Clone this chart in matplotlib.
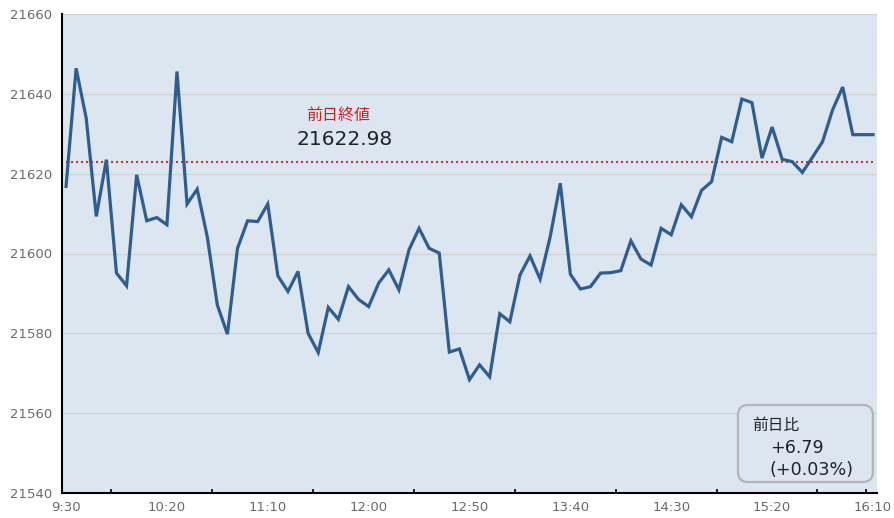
import numpy as np
import matplotlib
matplotlib.use('Agg')
import matplotlib.pyplot as plt
from matplotlib.patches import FancyBboxPatch

# 5-minute index values, 9:30 -> 16:10
prices = [21616.8, 21646.4, 21633.9, 21609.3, 21623.5, 21595.1, 21591.9, 21619.7,
          21608.2, 21609.0, 21607.2, 21645.6, 21612.4, 21616.1, 21604.2, 21587.1,
          21579.8, 21601.3, 21608.2, 21608.0, 21612.4, 21594.4, 21590.5, 21595.5,
          21580.0, 21575.2, 21586.5, 21583.5, 21591.7, 21588.5, 21586.7, 21592.6,
          21595.9, 21590.9, 21600.9, 21606.3, 21601.3, 21600.1, 21575.3, 21576.1,
          21568.4, 21572.1, 21569.1, 21584.9, 21582.9, 21594.6, 21599.4, 21593.6,
          21604.2, 21617.6, 21594.8, 21591.1, 21591.7, 21595.1, 21595.2, 21595.7,
          21603.2, 21598.6, 21597.1, 21606.3, 21604.7, 21612.2, 21609.2, 21615.8,
          21618.0, 21629.1, 21628.0, 21638.7, 21637.8, 21623.9, 21631.7, 21623.6,
          21623.0, 21620.3, 21624.1, 21628.0, 21636.0, 21641.7, 21629.77, 21629.77,
          21629.77]
time_labels = ['9:30', '10:20', '11:10', '12:00', '12:50', '13:40', '14:30', '15:20', '16:10']
prev_close = 21622.98
change = 6.79
change_pct = 0.03
y_ticks = [21540, 21560, 21580, 21600, 21620, 21640, 21660]

jp = ['Noto Sans CJK JP', 'DejaVu Sans']

fig = plt.figure(figsize=(8.94, 5.18), dpi=100)
ax = fig.add_axes([62/894, 25/518, 815/894, 479/518])
ax.set_facecolor('#dce6f1')

x = np.arange(len(prices))
ax.plot(x, prices, color='#2f5d8e', lw=2.3, solid_joinstyle='miter', zorder=3)
ax.hlines(prev_close, x[0], x[-1], colors='#cc3333', lw=1.5,
          linestyles=(0, (1, 1.4)), zorder=2)

ax.text(27, 21634.7, '前日終値', color='#cc2222', fontsize=11.5,
        family=jp, ha='center', va='center')
ax.text(27.6, 21628.5, f'{prev_close:.2f}', color='#222222', fontsize=14.5,
        ha='center', va='center')

# box with change vs previous day
box = FancyBboxPatch((0.8294, 0.023), 0.1656, 0.1607,
                     boxstyle='round,pad=0,rounding_size=0.0123',
                     mutation_aspect=815/479, transform=ax.transAxes,
                     facecolor='#dce6f1', edgecolor='#b4b4b4', lw=1.6, zorder=4)
ax.add_patch(box)
ax.text(0.8466, 0.140, '前日比', transform=ax.transAxes, fontsize=11.3,
        family=jp, color='#222222', va='center', ha='left', zorder=5)
ax.text(0.8687, 0.094, f'+{change:.2f}', transform=ax.transAxes, fontsize=12.6,
        color='#222222', va='center', ha='left', zorder=5)
ax.text(0.8687, 0.048, f'(+{change_pct:.2f}%)', transform=ax.transAxes, fontsize=12.6,
        color='#222222', va='center', ha='left', zorder=5)

ax.set_xlim(-0.4, len(prices) - 0.6)
ax.set_ylim(y_ticks[0], y_ticks[-1])
ax.set_yticks(y_ticks)
ax.set_yticklabels([str(v) for v in y_ticks])
ax.set_xticks(np.arange(0, len(prices), 10))
ax.set_xticklabels(time_labels)
ax.set_xticks(list(np.arange(4.5, 80, 10)) + [79.3], minor=True)
ax.tick_params(axis='both', which='major', length=0, labelsize=9.5, colors='#6a6a6a')
ax.tick_params(axis='y', pad=7)
ax.tick_params(axis='x', pad=6)
ax.tick_params(axis='x', which='minor', direction='in', length=3, width=1.2, color='black')

ax.grid(axis='y', color='#d2d2d2', lw=0.9)
ax.set_axisbelow(True)
for s in ['top', 'right']:
    ax.spines[s].set_visible(False)
for s in ['left', 'bottom']:
    ax.spines[s].set_color('black')
    ax.spines[s].set_linewidth(1.5)
ax.spines['bottom'].set_zorder(6)

fig.savefig('out.png', dpi=100)
